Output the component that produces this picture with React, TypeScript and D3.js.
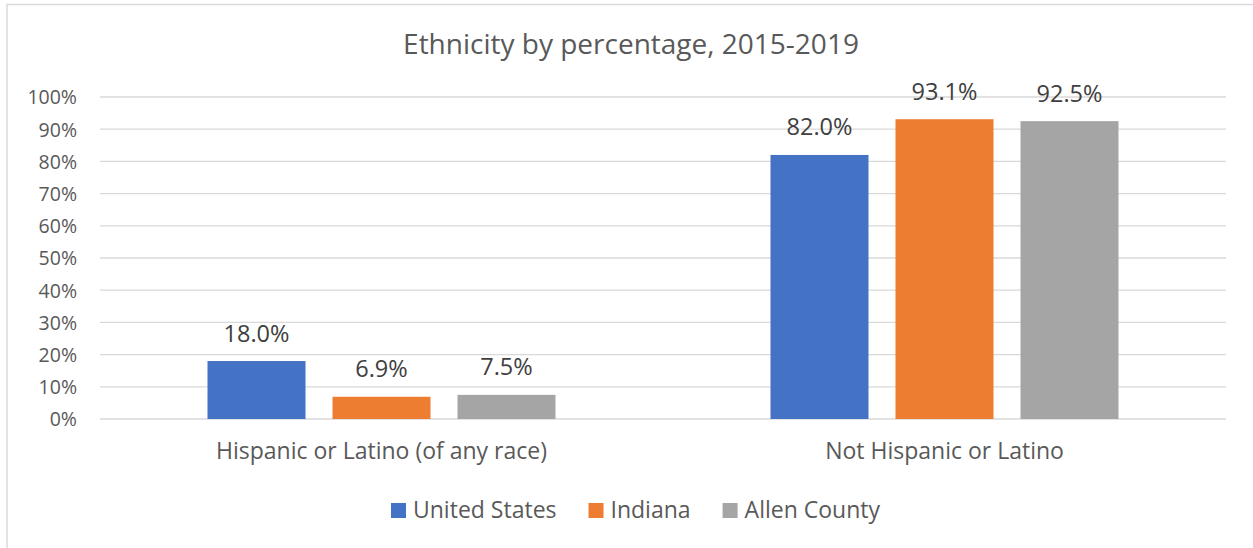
import React, { useEffect, useRef } from "react";
import * as d3 from "d3";

const categories = ["Hispanic or Latino (of any race)", "Not Hispanic or Latino"];
const seriesNames = ["United States", "Indiana", "Allen County"];
const seriesColors = ["#4472C4", "#ED7D31", "#A5A5A5"];
const unitedStates = [18.0, 82.0];
const indiana = [6.9, 93.1];
const allenCounty = [7.5, 92.5];
const yTicks = [0, 10, 20, 30, 40, 50, 60, 70, 80, 90, 100];
const title = "Ethnicity by percentage, 2015-2019";

const W = 1253;
const H = 548;
const FONT = "'Open Sans', sans-serif";

export default function App() {
  const ref = useRef<SVGSVGElement | null>(null);

  useEffect(() => {
    const svg = d3.select(ref.current);
    svg.selectAll("*").remove();

    const values = [unitedStates, indiana, allenCounty];
    const plot = { left: 100, right: 1226, top: 97, bottom: 419 };

    // chart border
    svg.append("rect")
      .attr("x", 7).attr("y", 4.5)
      .attr("width", W + 20).attr("height", H + 20)
      .attr("fill", "#fff").attr("stroke", "#d9d9d9").attr("stroke-width", 1.5);

    const y = d3.scaleLinear().domain([0, 100]).range([plot.bottom, plot.top]);
    const x0 = d3.scaleBand<string>().domain(categories).range([plot.left, plot.right]).padding(0);
    const groupW = x0.bandwidth();
    const innerW = 348;
    const x1 = d3.scaleBand<string>().domain(seriesNames)
      .range([(groupW - innerW) / 2, (groupW + innerW) / 2])
      .paddingInner(0.216).paddingOuter(0);

    // gridlines
    svg.append("g").selectAll("line").data(yTicks).join("line")
      .attr("x1", plot.left).attr("x2", plot.right)
      .attr("y1", (d) => y(d)).attr("y2", (d) => y(d))
      .attr("stroke", "#d9d9d9").attr("stroke-width", 1.3);

    // tick labels
    svg.append("g").selectAll("text").data(yTicks).join("text")
      .attr("x", 77).attr("y", (d) => y(d) + 7.3)
      .attr("text-anchor", "end")
      .attr("font-family", FONT).attr("font-size", 19.5)
      .attr("fill", "#595959")
      .text((d) => `${d}%`);

    // title
    svg.append("text")
      .attr("x", 631).attr("y", 54)
      .attr("text-anchor", "middle")
      .attr("font-family", FONT).attr("font-size", 28)
      .attr("fill", "#595959")
      .text(title);

    // bars
    const groups = svg.append("g").selectAll("g").data(categories).join("g")
      .attr("transform", (c) => `translate(${x0(c)},0)`);

    seriesNames.forEach((s, si) => {
      groups.append("rect")
        .attr("x", x1(s)!)
        .attr("y", (_c, ci) => y(values[si][ci]))
        .attr("width", x1.bandwidth())
        .attr("height", (_c, ci) => y(0) - y(values[si][ci]))
        .attr("fill", seriesColors[si]);
      groups.append("text")
        .attr("x", x1(s)! + x1.bandwidth() / 2)
        .attr("y", (_c, ci) => y(values[si][ci]) - 19.5)
        .attr("text-anchor", "middle")
        .attr("font-family", FONT).attr("font-size", 23.5)
        .attr("fill", "#404040")
        .text((_c, ci) => `${values[si][ci].toFixed(1)}%`);
    });

    // category labels
    svg.append("g").selectAll("text").data(categories).join("text")
      .attr("x", (c) => x0(c)! + groupW / 2)
      .attr("y", 459)
      .attr("text-anchor", "middle")
      .attr("font-family", FONT).attr("font-size", 23)
      .attr("fill", "#595959")
      .text((c) => c);

    // legend
    const legend = svg.append("g");
    let cx = 0;
    seriesNames.forEach((s, i) => {
      const g = legend.append("g").attr("transform", `translate(${cx},0)`);
      g.append("rect").attr("x", 0).attr("y", -15).attr("width", 15).attr("height", 15)
        .attr("fill", seriesColors[i]);
      const t = g.append("text").attr("x", 22).attr("y", 0)
        .attr("font-family", FONT).attr("font-size", 23)
        .attr("fill", "#595959").text(s);
      const tw = (t.node() as SVGTextElement).getComputedTextLength();
      cx += 22 + tw + (i < seriesNames.length - 1 ? 32 : 0);
    });
    const legendCenter = 635.5;
    legend.attr("transform", `translate(${legendCenter - cx / 2},518)`);
  }, []);

  return (
    <div style={{ position: "absolute", left: 0, top: 0 }}>
      <svg ref={ref} width={W} height={H} style={{ display: "block" }} />
    </div>
  );
}
